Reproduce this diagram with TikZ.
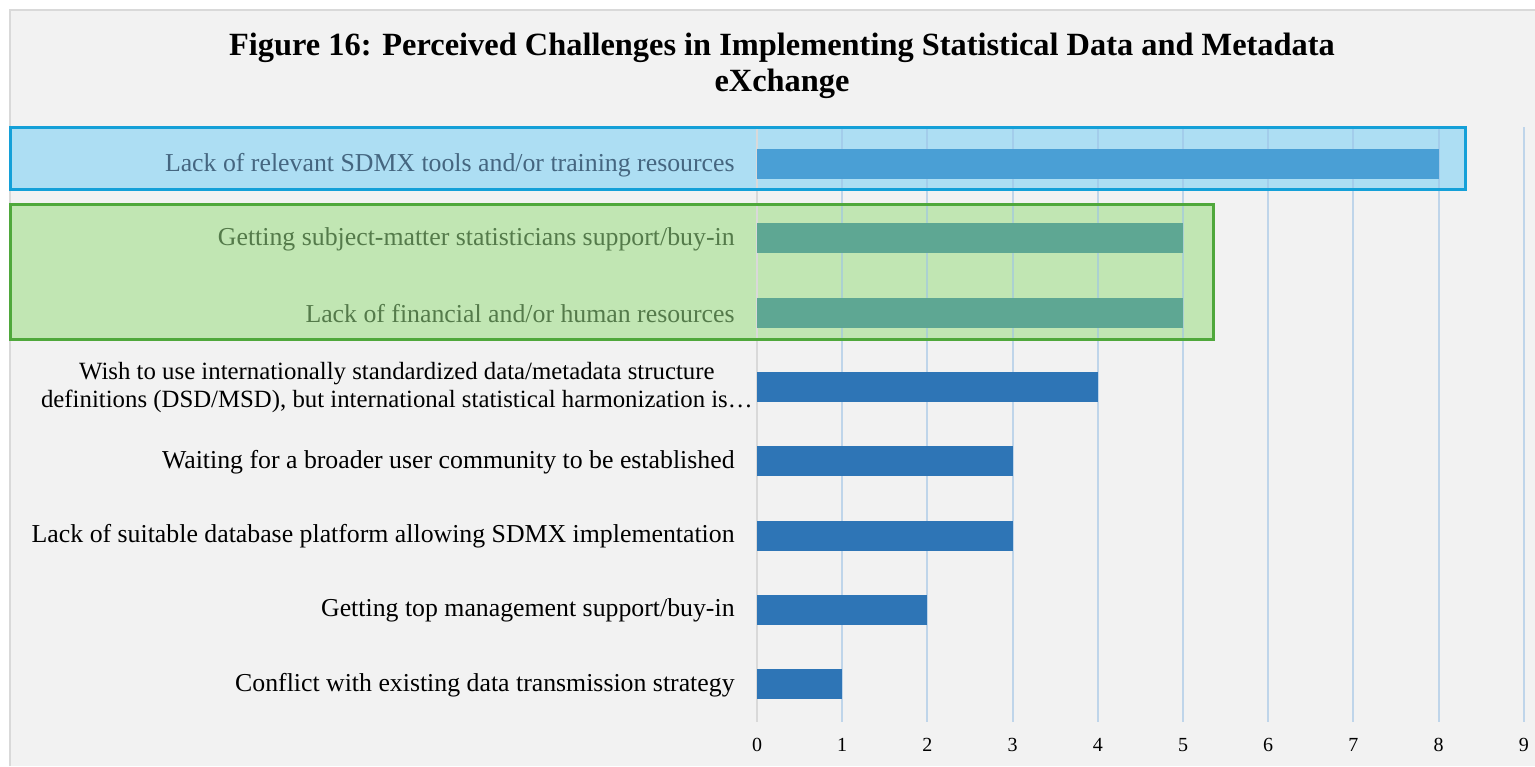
\documentclass[tikz,border=0pt]{standalone}
\usepackage{fontspec}
\setmainfont{Liberation Serif}
\definecolor{chartbg}{HTML}{F2F2F2}
\definecolor{chartline}{HTML}{D9D9D9}
\definecolor{gridc}{HTML}{9DC3E6}
\definecolor{barc}{HTML}{2E75B6}
\definecolor{bluefill}{HTML}{ADDEF3}
\definecolor{blueedge}{HTML}{14A0D8}
\definecolor{bluebar}{HTML}{4A9FD5}
\definecolor{bluetext}{HTML}{456680}
\definecolor{greenfill}{HTML}{C1E6B3}
\definecolor{greenedge}{HTML}{4FA83B}
\definecolor{greenbar}{HTML}{5EA793}
\definecolor{greentext}{HTML}{547A4A}
\begin{document}
\begin{tikzpicture}[x=0.5pt,y=-0.5pt,
  lbl/.style={anchor=east,inner sep=0pt,font=\fontsize{12.9}{14}\selectfont},
  tick/.style={inner sep=0pt,font=\fontsize{10}{12}\selectfont}]
\useasboundingbox (0,0) rectangle (1535,766);
\fill[white] (0,0) rectangle (1535,766);
\fill[chartbg] (10,10) rectangle (1535,766);
\draw[chartline,line width=1pt] (10,766)--(10,10)--(1535,10);
\node[font=\fontsize{16.2}{18}\selectfont\bfseries,align=center] (title) at (782,66)
  {Figure 16: Perceived Challenges in Implementing Statistical Data and Metadata\\eXchange};
% highlight fills
\fill[bluefill] (10,127) rectangle (1465,189);
\fill[greenfill] (10,204) rectangle (1213,339);
% grid and ticks
\draw[chartline,line width=1pt] (757,127)--(757,722);
\node[tick] (t0) at (757,745) {0};
\foreach \v in {1,...,9}{\draw[gridc,opacity=0.6,line width=1pt](757+\v*85.2,127)--++(0,595);
  \node[tick] (t\v) at (757+\v*85.2,745) {\v};}
% bars
\foreach \i/\v/\c in {4/4/barc,5/3/barc,6/3/barc,7/2/barc,8/1/barc,1/8/bluebar,2/5/greenbar,3/5/greenbar}{
  \fill[\c] (757,164+\i*74.3-74.3-15) rectangle ++(\v*85.2,30);}
% labels
\node[lbl,text=bluetext] (l1) at (735,165) {Lack of relevant SDMX tools and/or training resources};
\node[lbl,text=greentext] (l2) at (735,239.3) {Getting subject-matter statisticians support/buy-in};
\node[lbl,text=greentext] (l3) at (735,313.6) {Lack of financial and/or human resources};
\node[lbl,align=center,font=\fontsize{12.4}{14}\selectfont] (l4) at (753,387.9)
  {Wish to use internationally standardized data/metadata structure\\definitions (DSD/MSD), but international statistical harmonization is\dots};
\node[lbl] (l5) at (735,462.2) {Waiting for a broader user community to be established};
\node[lbl] (l6) at (735,536.5) {Lack of suitable database platform allowing SDMX implementation};
\node[lbl] (l7) at (735,610.8) {Getting top management support/buy-in};
\node[lbl] (l8) at (735,685.1) {Conflict with existing data transmission strategy};
% highlight borders
\draw[blueedge,line width=1.5pt] (10,127) rectangle (1465,189);
\draw[greenedge,line width=1.5pt] (10,204) rectangle (1213,339);
\end{tikzpicture}
\end{document}
